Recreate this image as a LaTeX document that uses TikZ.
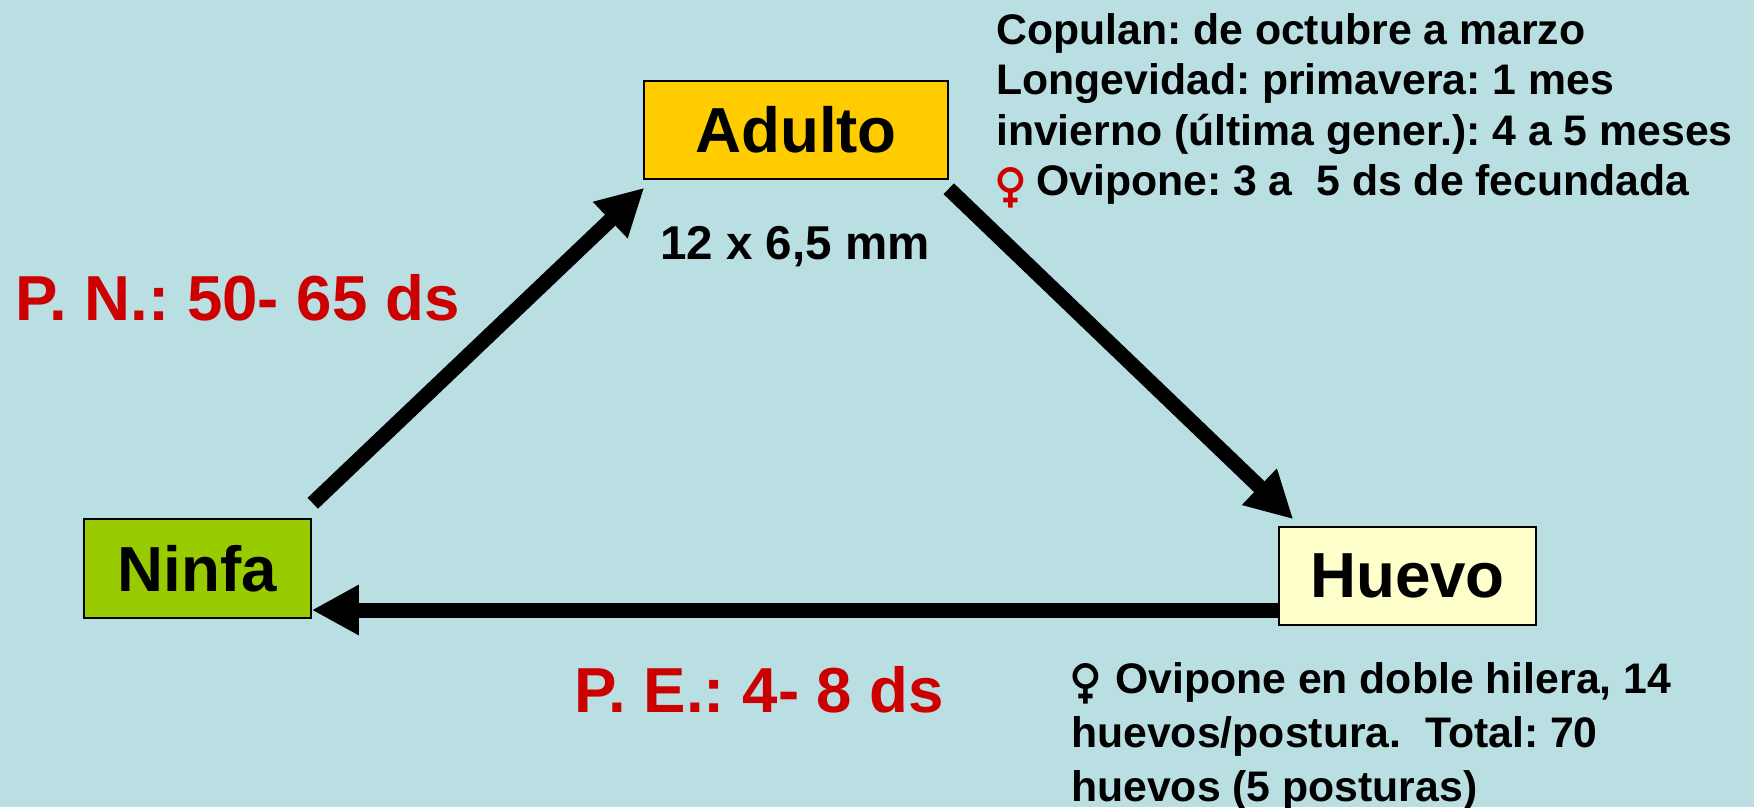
\documentclass[tikz,border=0pt]{standalone}
\usepackage{fontspec}
\setmainfont{Liberation Sans}[BoldFont={Liberation Sans Bold}]
\newfontfamily\femfont{Noto Emoji}
\usetikzlibrary{arrows.meta}
\definecolor{bgc}{HTML}{B9DFE3}
\definecolor{adultoc}{HTML}{FFCC00}
\definecolor{ninfac}{HTML}{99CC00}
\definecolor{huevoc}{HTML}{FFFFCC}
\definecolor{redc}{HTML}{CC0000}
\newcommand{\femsym}[2]{\makebox[#1][l]{\hspace{-11pt}\smash{\raisebox{#2}{\fontsize{40}{40}\femfont ♀}}}}
\tikzset{
  stage/.style={draw=black,line width=1.5pt,inner sep=0pt,font=\bfseries\fontsize{63.7}{70}\selectfont},
  flow/.style={line width=15pt,draw=black,-{Triangle[length=47pt,width=47pt]}},
  redlabel/.style={inner sep=0pt,text=redc,anchor=base west,font=\bfseries\fontsize{63.6}{70}\selectfont},
  info/.style={inner sep=0pt,text=black,align=left,anchor=north west},
}
\begin{document}
\frenchspacing
\begin{tikzpicture}[x=1pt,y=-1pt]
\path[fill=bgc] (0,0) rectangle (1754,807);
\useasboundingbox (0,0) rectangle (1754,807);
\node[stage,fill=adultoc,minimum width=304pt,minimum height=98pt] (adulto) at (796,130) {\raisebox{-2pt}{Adulto}};
\node[stage,fill=ninfac,minimum width=227pt,minimum height=99pt] (ninfa) at (197.5,568.5) {Ninfa};
\node[stage,fill=huevoc,minimum width=257pt,minimum height=98pt] (huevo) at (1407.5,576) {\raisebox{-2pt}{Huevo}};
\draw[flow] ([xshift=1pt,yshift=15pt]ninfa.north east) -- ([xshift=1pt,yshift=-8pt]adulto.south west);
\draw[flow] ([yshift=-9pt]adulto.south east) -- ([xshift=15pt,yshift=7pt]huevo.north west);
\draw[flow] ([yshift=-34pt]huevo.west) -- ([yshift=-41.5pt]ninfa.east);
\node[info,font=\bfseries\fontsize{42.75}{50.2}\selectfont] (t1) at (996,13.5) {Copulan: de octubre a marzo\\Longevidad: primavera: 1 mes\\invierno (última gener.): 4 a 5 meses\\{\color{redc}\femsym{40pt}{-6pt}}Ovipone: 3 a\ \ 5 ds de fecundada};
\node[inner sep=0pt,anchor=base west,font=\bfseries\fontsize{47.5}{52}\selectfont] (size) at (660,259) {12 x 6,5 mm};
\node[redlabel] (pn) at (15,320) {P. N.: 50- 65 ds};
\node[redlabel] (pe) at (574,712) {P. E.: 4- 8 ds};
\node[info,font=\bfseries\fontsize{42.75}{54}\selectfont] (t2) at (1071,662) {\femsym{44pt}{-4.5pt}Ovipone en doble hilera, 14\\huevos/postura.\ \ Total: 70\\huevos (5 posturas)};
\end{tikzpicture}
\end{document}
